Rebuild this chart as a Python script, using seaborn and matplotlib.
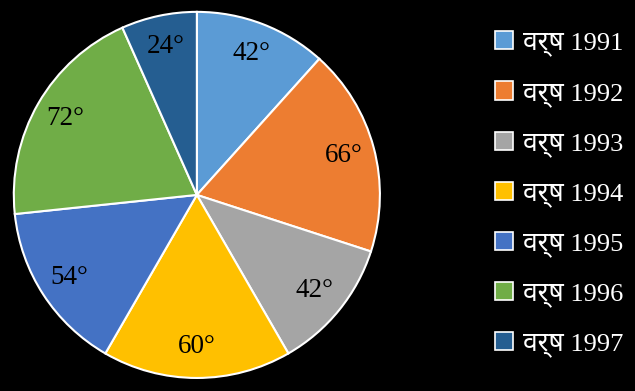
import matplotlib
matplotlib.use("Agg")
import matplotlib.pyplot as plt
import seaborn as sns
from matplotlib.patches import Patch

sns.set_theme(style="white")
plt.rcParams['font.family'] = ['Liberation Serif', 'Noto Sans', 'DejaVu Sans']

categories = ["वर्ष 1991", "वर्ष 1992", "वर्ष 1993", "वर्ष 1994", "वर्ष 1995", "वर्ष 1996", "वर्ष 1997"]
values = [42, 66, 42, 60, 54, 72, 24]
labels = ["42°", "66°", "42°", "60°", "54°", "72°", "24°"]
colors = ["#5B9BD5", "#ED7D31", "#A5A5A5", "#FFC000", "#4472C4", "#70AD47", "#255E91"]

fig = plt.figure(figsize=(6.35, 3.91), dpi=100, facecolor="black")
ax = fig.add_axes([0.020, 0.031, 0.580, 0.941])
ax.set_facecolor("black")
wedges, texts = ax.pie(values, labels=labels, colors=colors, startangle=90, counterclock=False,
                       labeldistance=0.83, wedgeprops=dict(edgecolor="white", linewidth=1.5),
                       textprops=dict(fontsize=19.5, color="black"))
for t in texts:
    t.set_horizontalalignment("center")
    t.set_verticalalignment("center")
ax.set_xlim(-1.005, 1.005)
ax.set_ylim(-1.005, 1.005)
ax.set_aspect("equal")

handles = [Patch(facecolor=c, edgecolor="white", linewidth=1.2) for c in colors]
leg = fig.legend(handles, categories, loc="upper left", bbox_to_anchor=(0.7795, 0.92),
                 frameon=False, fontsize=19, labelcolor="white", labelspacing=0.95,
                 handlelength=0.68, handleheight=0.68, handletextpad=0.38,
                 borderpad=0, borderaxespad=0)

fig.savefig("out.png", dpi=100, facecolor="black")
